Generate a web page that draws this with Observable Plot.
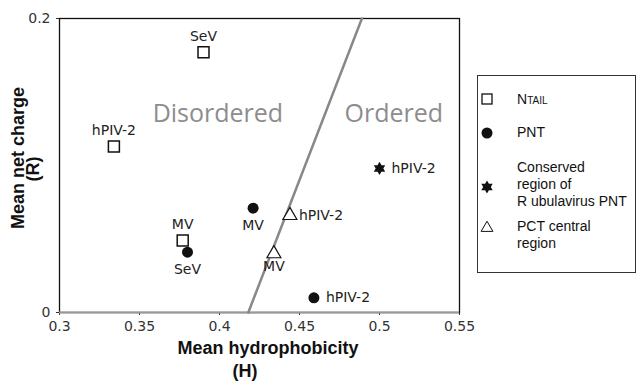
<!DOCTYPE html>
<html><head><meta charset="utf-8">
<script src="https://cdn.jsdelivr.net/npm/d3@7"></script>
<script src="https://cdn.jsdelivr.net/npm/@observablehq/plot@0.6"></script>
<style>
body{margin:0;background:#fff;}
#wrap{position:relative;width:639px;height:383px;font-family:"Liberation Sans",Arial,sans-serif;}
#legend{position:absolute;left:477px;top:75px;width:159px;height:198px;border:1px solid #333;box-sizing:border-box;font-size:14px;color:#111;}
.li{position:absolute;left:39px;line-height:17px;white-space:nowrap;}
.sym{position:absolute;left:1px;width:16px;height:16px;}
</style></head>
<body><div id="wrap"></div>
<script>
// data
const ntailVirus = ["SeV","hPIV-2","MV"];
const ntailH = [0.390, 0.334, 0.377];
const ntailR = [0.177, 0.113, 0.049];
const pntVirus = ["SeV","MV","hPIV-2"];
const pntH = [0.380, 0.421, 0.459];
const pntR = [0.041, 0.071, 0.010];
const consVirus = ["hPIV-2"];
const consH = [0.500];
const consR = [0.098];
const pctVirus = ["hPIV-2","MV"];
const pctH = [0.444, 0.434];
const pctR = [0.066, 0.040];
const boundaryH = [0.418, 0.489];
const boundaryR = [0, 0.2];
const regionLabels = ["Disordered","Ordered"];
const regionH = [0.399, 0.509];
const regionR = [0.135, 0.135];
const xTicks = [0.3,0.35,0.4,0.45,0.5,0.55];
const yTicks = [0, 0.2];

const mk = (v,h,r) => v.map((d,i)=>({virus:d,h:h[i],r:r[i]}));
const ntail = mk(ntailVirus,ntailH,ntailR);
const pnt = mk(pntVirus,pntH,pntR);
const cons = mk(consVirus,consH,consR);
const pct = mk(pctVirus,pctH,pctR);
const boundary = boundaryH.map((h,i)=>({h,r:boundaryR[i]}));
const regions = regionLabels.map((t,i)=>({t,h:regionH[i],r:regionR[i]}));

const hexagram = {draw(ctx,size){
  const R = Math.sqrt(size)*0.62;
  for (const off of [-Math.PI/2, Math.PI/2]) {
    for (let k=0;k<3;k++){
      const a = off + k*2*Math.PI/3;
      const x = R*Math.cos(a), y = R*Math.sin(a);
      k===0 ? ctx.moveTo(x,y) : ctx.lineTo(x,y);
    }
    ctx.closePath();
  }
}};

const lab = {fontSize:14, fill:"#222", fontFamily:"DejaVu Sans, Verdana, sans-serif"};
const chart = Plot.plot({
  width:639, height:383,
  marginLeft:59, marginRight:180, marginTop:18, marginBottom:71,
  style:{fontFamily:"DejaVu Sans, Verdana, sans-serif", fontSize:"14px", color:"#333"},
  x:{domain:[0.3,0.55], ticks:xTicks, tickFormat:d=>String(d), tickSize:3, label:null},
  y:{domain:[0,0.2], ticks:yTicks, tickFormat:d=>String(d), tickSize:3, label:null},
  marks:[
    Plot.frame({stroke:"#111", strokeWidth:1.3}),
    Plot.ruleY([0], {stroke:"#999", strokeWidth:2}),
    Plot.line(boundary, {x:"h", y:"r", stroke:"#888", strokeWidth:2.5}),
    Plot.text(regions, {x:"h", y:"r", text:"t", fontSize:25, fill:"#8d8d8d", fontFamily:"Open Sans, sans-serif", letterSpacing:"1px"}),
    Plot.dot(ntail, {x:"h", y:"r", symbol:"square", r:6.2, stroke:"#111", fill:"white", strokeWidth:1.5}),
    Plot.text(ntail, {x:"h", y:"r", text:"virus", dy:-16, ...lab}),
    Plot.dot(pnt, {x:"h", y:"r", symbol:"circle", r:5.5, fill:"#111"}),
    Plot.text(pnt.filter(d=>d.virus!=="hPIV-2"), {x:"h", y:"r", text:"virus", dy:17, ...lab}),
    Plot.text(pnt.filter(d=>d.virus==="hPIV-2"), {x:"h", y:"r", text:"virus", dx:12, textAnchor:"start", ...lab}),
    Plot.dot(cons, {x:"h", y:"r", symbol:hexagram, r:6, fill:"#111"}),
    Plot.text(cons, {x:"h", y:"r", text:"virus", dx:12, textAnchor:"start", ...lab}),
    Plot.dot(pct, {x:"h", y:"r", symbol:"triangle", r:5.2, stroke:"#111", fill:"white", strokeWidth:1.2}),
    Plot.text(pct.filter(d=>d.virus==="hPIV-2"), {x:"h", y:"r", text:"virus", dx:9, textAnchor:"start", ...lab}),
    Plot.text(pct.filter(d=>d.virus==="MV"), {x:"h", y:"r", text:"virus", dy:13, ...lab})
  ]
});
document.getElementById("wrap").appendChild(chart);

// axis titles
const svg = d3.select(chart);
const t = svg.append("g").attr("font-family","Liberation Sans, Arial, sans-serif").attr("font-weight","bold").attr("font-size",18).attr("fill","#111").attr("text-anchor","middle");
t.append("text").attr("x",268).attr("y",354).text("Mean hydrophobicity");
t.append("text").attr("x",245).attr("y",377).text("(H)");
t.append("text").attr("transform","translate(24,158) rotate(-90)").text("Mean net charge");
t.append("text").attr("transform","translate(39,169) rotate(-90)").text("(R)");

// legend
const legend = document.createElement("div");
legend.id = "legend";
legend.innerHTML = `
<svg class="sym" style="top:15px" viewBox="-8 -8 16 16"><rect x="-5" y="-5" width="10" height="10" fill="white" stroke="#111" stroke-width="1.3"/></svg>
<div class="li" style="top:15px">N<span style="font-size:10px">TAIL</span></div>
<svg class="sym" style="top:49px" viewBox="-8 -8 16 16"><circle r="5.5" fill="#111"/></svg>
<div class="li" style="top:48px">PNT</div>
<svg class="sym" style="top:103px" viewBox="-8 -8 16 16"><path d="${d3.symbol(hexagram,113)()}" fill="#111"/></svg>
<div class="li" style="top:83px">Conserved<br>region of<br>R ubulavirus PNT</div>
<svg class="sym" style="top:144px" viewBox="-8 -8 16 16"><path d="${d3.symbol(d3.symbolTriangle,60)()}" fill="white" stroke="#111" stroke-width="1"/></svg>
<div class="li" style="top:142px">PCT central<br>region</div>`;
document.getElementById("wrap").appendChild(legend);
</script></body></html>
